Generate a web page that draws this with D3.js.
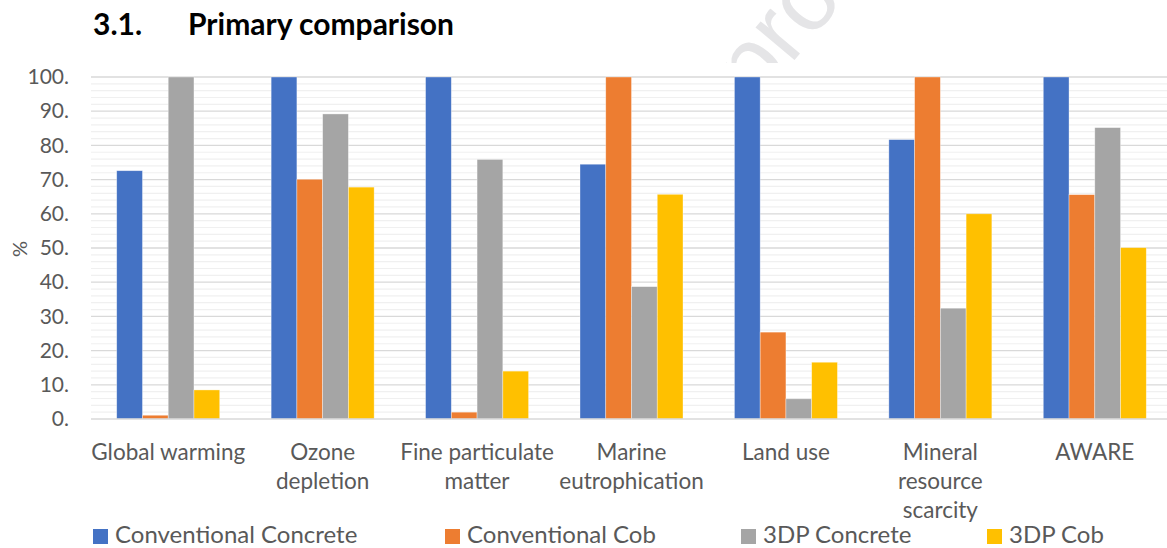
<!DOCTYPE html>
<html><head><meta charset="utf-8">
<script src="https://cdn.jsdelivr.net/npm/d3@7"></script>
<style>html,body{margin:0;padding:0;background:#fff;}svg{display:block;}</style>
</head><body>
<svg id="chart" width="1167" height="548"></svg>
<script>
const categories = ["Global warming", "Ozone\ndepletion", "Fine particulate\nmatter", "Marine\neutrophication", "Land use", "Mineral\nresource\nscarcity", "AWARE"];
const seriesNames = ["Conventional Concrete", "Conventional Cob", "3DP Concrete", "3DP Cob"];
const conventionalConcrete = [72.6, 100, 100, 74.5, 100, 81.7, 100];
const conventionalCob = [1.1, 70.1, 2.0, 100, 25.4, 100, 65.6];
const concrete3DP = [100, 89.2, 75.9, 38.7, 5.9, 32.4, 85.2];
const cob3DP = [8.5, 67.8, 14.0, 65.7, 16.6, 60.0, 50.1];
const colors = ["#4472C4", "#ED7D31", "#A5A5A5", "#FFC000"];
const yTicks = [0, 10, 20, 30, 40, 50, 60, 70, 80, 90, 100];
const titleText = "Primary comparison";
const titleNumber = "3.1.";

const seriesValues = [conventionalConcrete, conventionalCob, concrete3DP, cob3DP];
const svg = d3.select("#chart");
const font = "Lato, 'Open Sans', sans-serif";
const plotLeft = 91, plotRight = 1172, plotTop = 77, plotBottom = 419;

// watermark (clipped to area above plot)
svg.append("clipPath").attr("id", "wm").append("rect").attr("x", 0).attr("y", 0).attr("width", 1167).attr("height", 63);
svg.append("g").attr("clip-path", "url(#wm)")
  .append("text").attr("transform", "translate(756,106) rotate(-50)")
  .attr("font-family", "'Liberation Sans', Arial, sans-serif").attr("font-size", 96)
  .attr("fill", "#e5e5e7").text("pro");

// title
svg.append("text").attr("x", 93).attr("y", 35).attr("font-family", font).attr("font-weight", "bold")
  .attr("font-size", 30).attr("fill", "#000").text(titleNumber);
svg.append("text").attr("x", 188).attr("y", 35).attr("font-family", font).attr("font-weight", "bold")
  .attr("font-size", 30).attr("fill", "#000").text(titleText);

const x = d3.scaleBand().domain(d3.range(categories.length)).range([plotLeft, plotRight]).paddingInner(0.333).paddingOuter(0.1665);
const xs = d3.scaleBand().domain(d3.range(seriesNames.length)).range([0, x.bandwidth()]);
const y = d3.scaleLinear().domain([0, 100]).range([plotBottom, plotTop]);

// minor gridlines
const minor = d3.range(0, 101, 2).filter(v => v % 10 !== 0);
svg.append("g").selectAll("line").data(minor).join("line")
  .attr("x1", plotLeft).attr("x2", 1167).attr("y1", d => y(d)).attr("y2", d => y(d))
  .attr("stroke", "#f0f0f0").attr("stroke-width", 1.2);
// major gridlines
svg.append("g").selectAll("line").data(yTicks.filter(v => v > 0)).join("line")
  .attr("x1", plotLeft).attr("x2", 1167).attr("y1", d => y(d)).attr("y2", d => y(d))
  .attr("stroke", "#d9d9d9").attr("stroke-width", 1.3);

// bars
seriesValues.forEach((vals, si) => {
  svg.append("g").selectAll("rect").data(vals).join("rect")
    .attr("x", (d, i) => x(i) + xs(si))
    .attr("y", d => y(d))
    .attr("width", xs.bandwidth())
    .attr("height", d => y(0) - y(d))
    .attr("fill", colors[si])
    .attr("stroke", "#ffffff").attr("stroke-opacity", 0.5).attr("stroke-width", 0.7);
});

// baseline
svg.append("line").attr("x1", plotLeft).attr("x2", 1167).attr("y1", y(0)).attr("y2", y(0))
  .attr("stroke", "#d9d9d9").attr("stroke-width", 1.5);

// y axis labels
const yAxis = d3.axisLeft(y).tickValues(yTicks).tickFormat(d => d + ".").tickSize(0).tickPadding(0);
const ya = svg.append("g").attr("transform", "translate(69,0)").call(yAxis);
ya.select(".domain").remove();
ya.selectAll("text").attr("font-family", font).attr("font-size", 21).attr("fill", "#595959");

// y axis title
svg.append("text").attr("transform", "translate(27,249) rotate(-90)").attr("text-anchor", "middle")
  .attr("font-family", font).attr("font-size", 20).attr("fill", "#595959").text("%");

// x labels
const xl = svg.append("g").selectAll("text").data(categories).join("text")
  .attr("text-anchor", "middle").attr("font-family", font).attr("font-size", 22.5).attr("fill", "#595959");
xl.each(function (d, i) {
  const t = d3.select(this);
  d.split("\n").forEach((line, li) => {
    t.append("tspan").attr("x", x(i) + x.bandwidth() / 2).attr("y", 460 + li * 29).text(line);
  });
});

// legend
const legendX = [93, 445, 741, 987];
const lg = svg.append("g").selectAll("g").data(seriesNames).join("g")
  .attr("transform", (d, i) => `translate(${legendX[i]},0)`);
lg.append("rect").attr("x", 0).attr("y", 529).attr("width", 15).attr("height", 15).attr("fill", (d, i) => colors[i]);
lg.append("text").attr("x", 22).attr("y", 543).attr("font-family", font).attr("font-size", 24)
  .attr("fill", "#595959").text(d => d);
</script>
</body></html>
